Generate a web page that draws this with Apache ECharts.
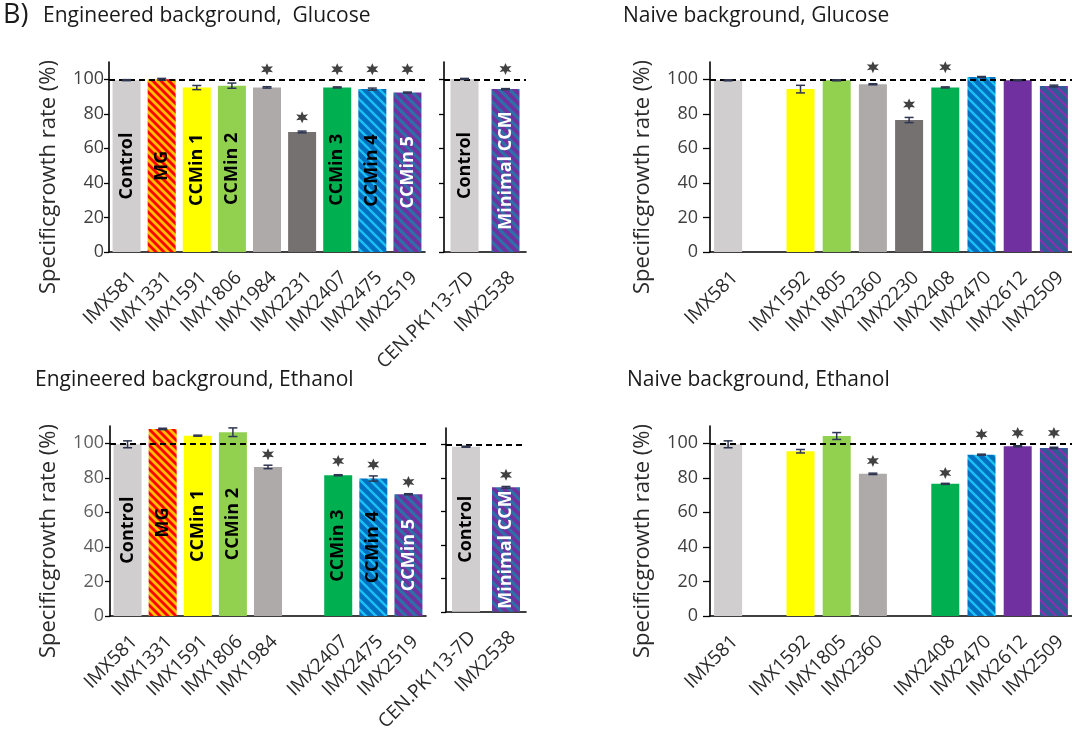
<!DOCTYPE html>
<html><head><meta charset="utf-8">
<script src="https://cdn.jsdelivr.net/npm/echarts@6/dist/echarts.min.js"></script>
<style>html,body{margin:0;padding:0;background:#fff}#c{width:1072px;height:734px}</style>
</head><body><div id="c"></div>
<script>
// ---------- DATA ----------
// Engineered background, Glucose
const engGluCats = ['IMX581','IMX1331','IMX1591','IMX1806','IMX1984','IMX2231','IMX2407','IMX2475','IMX2519'];
const engGluVals = [99.5, 100.0, 95.2, 96.3, 95.3, 69.5, 95.3, 94.3, 92.3];
const engGluErr  = [0.3, 0.5, 1.2, 1.5, 0.4, 0.5, 0.3, 0.6, 0.3];
const engGluSig  = [null, null, null, null, 105.8, 78, 105.8, 105.8, 105.8];
const engGluTags = ['Control','MG','CCMin 1','CCMin 2','','','CCMin 3','CCMin 4','CCMin 5'];
const engGluCats2 = ['CEN.PK113-7D','IMX2538'];
const engGluVals2 = [100.2, 94.3];
const engGluErr2  = [0.3, 0.3];
const engGluSig2  = [null, 106];
const engGluTags2 = ['Control','Minimal CCM'];

// Naive background, Glucose
const naiGluCats = ['IMX581',' ','IMX1592','IMX1805','IMX2360','IMX2230','IMX2408','IMX2470','IMX2612','IMX2509'];
const naiGluVals = [99.4, null, 94.3, 99.4, 97.1, 76.4, 95.3, 101.3, 99.4, 96.1];
const naiGluErr  = [0.3, null, 2.2, 0.3, 0.3, 1.5, 0.3, 0.3, 0.3, 0.5];
const naiGluSig  = [null, null, null, null, 107, 85.4, 107, null, null, null];

// Engineered background, Ethanol
const engEthCats = ['IMX581','IMX1331','IMX1591','IMX1806','IMX1984',' ','IMX2407','IMX2475','IMX2519'];
const engEthVals = [99.4, 108.3, 104.4, 106.4, 86.3, null, 81.5, 79.6, 70.5];
const engEthErr  = [2.0, 0.4, 0.3, 2.5, 1.0, null, 0.3, 1.5, 0.3];
const engEthSig  = [null, 115.6, 113.3, null, 93.6, null, 89.8, 87.7, 77.6];
const engEthTags = ['Control','MG','CCMin 1','CCMin 2','','','CCMin 3','CCMin 4','CCMin 5'];
const engEthCats2 = ['CEN.PK113-7D','IMX2538'];
const engEthVals2 = [98.8, 74.5];
const engEthErr2  = [0.3, 0.5];
const engEthSig2  = [null, 82];
const engEthTags2 = ['Control','Minimal CCM'];

// Naive background, Ethanol
const naiEthCats = ['IMX581',' ','IMX1592','IMX1805','IMX2360','  ','IMX2408','IMX2470','IMX2612','IMX2509'];
const naiEthVals = [99.4, null, 95.4, 104.2, 82.3, null, 76.5, 93.4, 98.3, 97.3];
const naiEthErr  = [2.0, null, 1.0, 2.0, 0.4, null, 0.3, 0.3, 0.3, 0.4];
const naiEthSig  = [null, null, null, null, 89.8, null, 82.8, 105.2, 106, 106];

const yTicks = [0, 20, 40, 60, 80, 100];

// ---------- STYLES ----------
function stripes(bg, fg, size, lw) {
  const c = document.createElement('canvas');
  c.width = size; c.height = size;
  const g = c.getContext('2d');
  g.fillStyle = bg; g.fillRect(0, 0, size, size);
  g.strokeStyle = fg; g.lineWidth = lw;
  for (let k = -1; k <= 1; k++) {
    g.beginPath();
    g.moveTo(k * size - 1, -1);
    g.lineTo(k * size + size + 1, size + 1);
    g.stroke();
  }
  return { image: c, repeat: 'repeat' };
}
const C = {
  control: '#d0cece',
  mg: stripes('#ffc000', '#ff0000', 8, 2.9),
  yellow: '#ffff00',
  lgreen: '#92d050',
  gray: '#aeaaaa',
  dgray: '#757171',
  green: '#00b050',
  blue: stripes('#0070c0', '#1cc0f5', 10, 2.4),
  purpleStripe: stripes('#7030a0', '#2f6fa8', 10, 3.2),
  purple: '#7030a0',
  bluePurple: stripes('#2f5a96', '#8a2fb0', 10, 2.2)
};
const colorOf = {
  'IMX581': C.control, 'CEN.PK113-7D': C.control,
  'IMX1331': C.mg,
  'IMX1591': C.yellow, 'IMX1592': C.yellow,
  'IMX1806': C.lgreen, 'IMX1805': C.lgreen,
  'IMX1984': C.gray, 'IMX2360': C.gray,
  'IMX2231': C.dgray, 'IMX2230': C.dgray,
  'IMX2407': C.green, 'IMX2408': C.green,
  'IMX2475': C.blue, 'IMX2470': C.blue,
  'IMX2519': C.purpleStripe, 'IMX2538': C.purpleStripe,
  'IMX2612': C.purple,
  'IMX2509': C.bluePurple
};
const whiteLabel = { 'CCMin 5': true, 'Minimal CCM': true };

const FONT = '"Open Sans", Lato, sans-serif';
// six-pointed asterisk symbol
const starPath = (function () {
  let d = 'path://';
  for (let i = 0; i < 12; i++) {
    const a = Math.PI / 2 + i * Math.PI / 6;
    const r = i % 2 === 0 ? 10 : 4.6;
    d += (i === 0 ? 'M' : 'L') + (r * Math.cos(a)).toFixed(2) + ',' + (-r * Math.sin(a)).toFixed(2) + ' ';
  }
  return d + 'Z';
})();

const grids = [
  { left: 109, top: 62, width: 316, height: 190 },
  { left: 444, top: 62, width: 82, height: 190 },
  { left: 710, top: 62, width: 367, height: 190 },
  { left: 110, top: 426, width: 316, height: 190 },
  { left: 446, top: 428, width: 80, height: 190 },
  { left: 710, top: 426, width: 367, height: 190 }
];

const xAxes = [], yAxes = [], series = [];

function addPanel(gi, cats, vals, errs, sig, tags, opt) {
  xAxes.push({
    type: 'category', gridIndex: gi, data: cats,
    axisLine: { lineStyle: { color: '#000', width: 1.6 } },
    axisTick: { show: false },
    axisLabel: { rotate: 45, interval: 0, margin: 16, verticalAlign: 'top', fontSize: 19, color: '#2a2a2a', fontFamily: FONT }
  });
  yAxes.push({
    type: 'value', gridIndex: gi, min: 0, max: 110, interval: 20,
    name: opt.name ? 'Specificgrowth rate (%)' : '',
    nameLocation: 'middle', nameGap: opt.nameGap || 45,
    nameTextStyle: { fontSize: 22, color: '#2a2a2a', fontFamily: FONT, padding: [0, 40, 0, 0] },
    splitLine: { show: false },
    axisLine: { show: true, lineStyle: { color: '#000', width: 1.6 } },
    axisTick: { show: true, inside: false, length: opt.tickLen || 5, customValues: yTicks, lineStyle: { color: '#000', width: 1.3 } },
    axisLabel: {
      show: !!opt.labels, customValues: yTicks, margin: opt.labelMargin || 5,
      fontSize: 18, color: opt.labelColor || '#404040', fontFamily: FONT,
      formatter: v => (v > 100 ? '' : String(v))
    }
  });
  const idx = xAxes.length - 1;
  series.push({
    type: 'bar', xAxisIndex: idx, yAxisIndex: idx, barWidth: 28,
    data: vals.map((v, i) => ({
      value: v,
      itemStyle: { color: colorOf[cats[i]] || '#ccc' },
      label: {
        show: !!(tags && tags[i]), formatter: tags ? tags[i] : '',
        position: 'inside', rotate: 90, fontSize: 18, fontWeight: 'bold', fontFamily: FONT,
        color: tags && whiteLabel[tags[i]] ? '#fff' : '#000'
      }
    })),
    markLine: {
      silent: true, symbol: 'none', label: { show: false },
      lineStyle: { color: '#000', type: [6, 4], width: 1.8 },
      data: [{ yAxis: 100 }]
    },
    z: 2
  });
  series.push({
    type: 'custom', xAxisIndex: idx, yAxisIndex: idx, z: 5,
    data: vals.map((v, i) => (v == null ? null : [i, v, errs[i]])).filter(d => d),
    renderItem: function (params, api) {
      const x = api.value(0), y = api.value(1), e = api.value(2);
      const t = api.coord([x, y + e]);
      const b = api.coord([x, y - e]);
      const hw = 4.5;
      const st = { stroke: '#2e3550', lineWidth: 1.5 };
      return {
        type: 'group', children: [
          { type: 'line', shape: { x1: t[0], y1: t[1], x2: b[0], y2: b[1] }, style: st },
          { type: 'line', shape: { x1: t[0] - hw, y1: t[1], x2: t[0] + hw, y2: t[1] }, style: st },
          { type: 'line', shape: { x1: b[0] - hw, y1: b[1], x2: b[0] + hw, y2: b[1] }, style: st }
        ]
      };
    }
  });
  series.push({
    type: 'scatter', xAxisIndex: idx, yAxisIndex: idx, z: 6,
    symbol: starPath, symbolSize: 12,
    itemStyle: { color: '#111' },
    data: sig.map((s, i) => (s == null ? null : [i, s])).filter(d => d)
  });
}

addPanel(0, engGluCats, engGluVals, engGluErr, engGluSig, engGluTags, { name: true, labels: true, nameGap: 49, tickLen: 5, labelMargin: 5 });
addPanel(1, engGluCats2, engGluVals2, engGluErr2, engGluSig2, engGluTags2, { tickLen: 5 });
addPanel(2, naiGluCats, naiGluVals, naiGluErr, naiGluSig, null, { name: true, labels: true, nameGap: 56, tickLen: 7, labelMargin: 12 });
addPanel(3, engEthCats, engEthVals, engEthErr, engEthSig, engEthTags, { name: true, labels: true, nameGap: 50, tickLen: 5, labelMargin: 6, labelColor: '#5f5f5f' });
addPanel(4, engEthCats2, engEthVals2, engEthErr2, engEthSig2, engEthTags2, { tickLen: 5 });
addPanel(5, naiEthCats, naiEthVals, naiEthErr, naiEthSig, null, { name: true, labels: true, nameGap: 56, tickLen: 7, labelMargin: 12 });

const tStyle = { fontSize: 21, fontWeight: 'normal', color: '#1a1a1a', fontFamily: FONT };
const option = {
  animation: false,
  backgroundColor: '#fff',
  title: [
    { text: 'B)', left: 3, top: 2, padding: 0, textStyle: Object.assign({}, tStyle, { fontSize: 27 }) },
    { text: 'Engineered background,  Glucose', left: 43, top: 6, padding: 0, textStyle: tStyle },
    { text: 'Naive background, Glucose', left: 623, top: 6, padding: 0, textStyle: tStyle },
    { text: 'Engineered background, Ethanol', left: 35, top: 370, padding: 0, textStyle: tStyle },
    { text: 'Naive background, Ethanol', left: 627, top: 370, padding: 0, textStyle: tStyle }
  ],
  grid: grids,
  xAxis: xAxes,
  yAxis: yAxes,
  series: series
};
const chart = echarts.init(document.getElementById('c'), null, { renderer: 'canvas' });
chart.setOption(option);
</script>
</body></html>
